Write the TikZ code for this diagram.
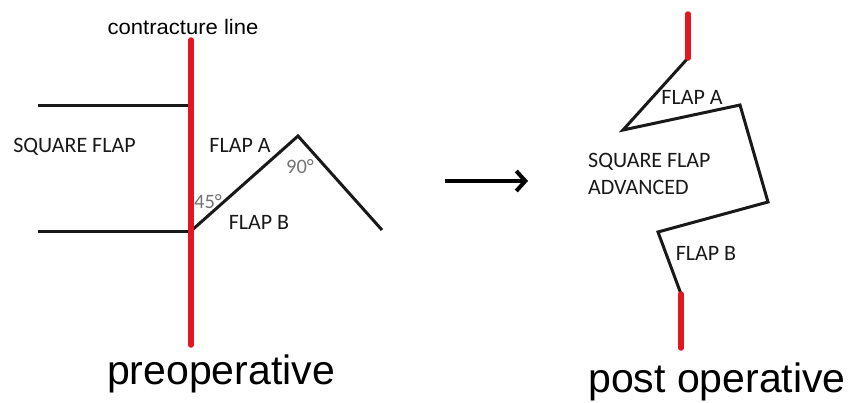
\documentclass[tikz,border=0pt]{standalone}
\usepackage{fontspec}
\setmainfont{Liberation Sans}
\newfontfamily\calfont{Carlito}
\usetikzlibrary{arrows.meta}
\definecolor{contred}{RGB}{228,22,30}
\definecolor{anglegray}{RGB}{115,115,115}
\tikzset{
  flapline/.style={draw=black!90, line width=3pt, line join=miter},
  redline/.style={draw=contred, line width=5.5pt, line cap=round},
  lbl/.style={font=\calfont\fontsize{22}{26}\selectfont, text=black!90, inner sep=0pt},
  anglbl/.style={font=\calfont\fontsize{20.5}{24}\selectfont, text=anglegray, inner sep=0pt},
  bigtitle/.style={font=\fontsize{41}{48}\selectfont, inner sep=0pt, anchor=base},
  toptitle/.style={font=\fontsize{21}{25}\selectfont, inner sep=0pt, xscale=1.05},
}
\begin{document}
\begin{tikzpicture}[x=1pt,y=-1pt]
\useasboundingbox (0,0) rectangle (861,402);
% ---------- preoperative ----------
\coordinate (redtop) at (191,40);
\coordinate (redbot) at (191,345);
\coordinate (ul) at (38,105);
\coordinate (ur) at (189,105);
\coordinate (ll) at (38,231);
\coordinate (lr) at (191,231);
\coordinate (pk) at (298,136);
\coordinate (dr) at (382,230);
\draw[flapline] (ul) -- (ur);
\draw[flapline] (ll) -- (lr);
\draw[flapline] (lr) -- (pk) -- (dr);
\draw[redline] (redtop) -- (redbot);
\node[toptitle] (ct) at (183,27) {contracture line};
\node[lbl] (sq) at (74.5,147) {SQUARE FLAP};
\node[lbl] (fa) at (240,145) {FLAP A};
\node[anglbl] (a90) at (300,167) {90°};
\node[anglbl] (a45) at (208,202) {45°};
\node[lbl] (fb) at (259,222) {FLAP B};
\node[bigtitle] (pre) at (221,384) {preoperative};
% ---------- arrow ----------
\coordinate (as) at (445,181);
\coordinate (ae) at (528,181);
\draw[line width=4pt, -{Straight Barb[length=9pt,width=20pt,line width=4pt]}] (as) -- (ae);
% ---------- post operative ----------
\coordinate (rt1) at (688,14);
\coordinate (rt2) at (688,58);
\coordinate (p1) at (623,130);
\coordinate (p2) at (740,105);
\coordinate (p3) at (768,202);
\coordinate (p4) at (658,232);
\coordinate (rb1) at (681,294);
\coordinate (rb2) at (681,348);
\draw[flapline] (rt2) -- (p1) -- (p2) -- (p3) -- (p4) -- (rb1);
\draw[redline] (rt1) -- (rt2);
\draw[redline] (rb1) -- (rb2);
\node[lbl] (fa2) at (692,97) {FLAP A};
\node[lbl, anchor=west] (sq2) at (588,162) {SQUARE FLAP};
\node[lbl, anchor=west] (adv) at (588,187) {ADVANCED};
\node[lbl] (fb2) at (706,253) {FLAP B};
\node[bigtitle] (post) at (717,392) {post operative};
\end{tikzpicture}
\end{document}
